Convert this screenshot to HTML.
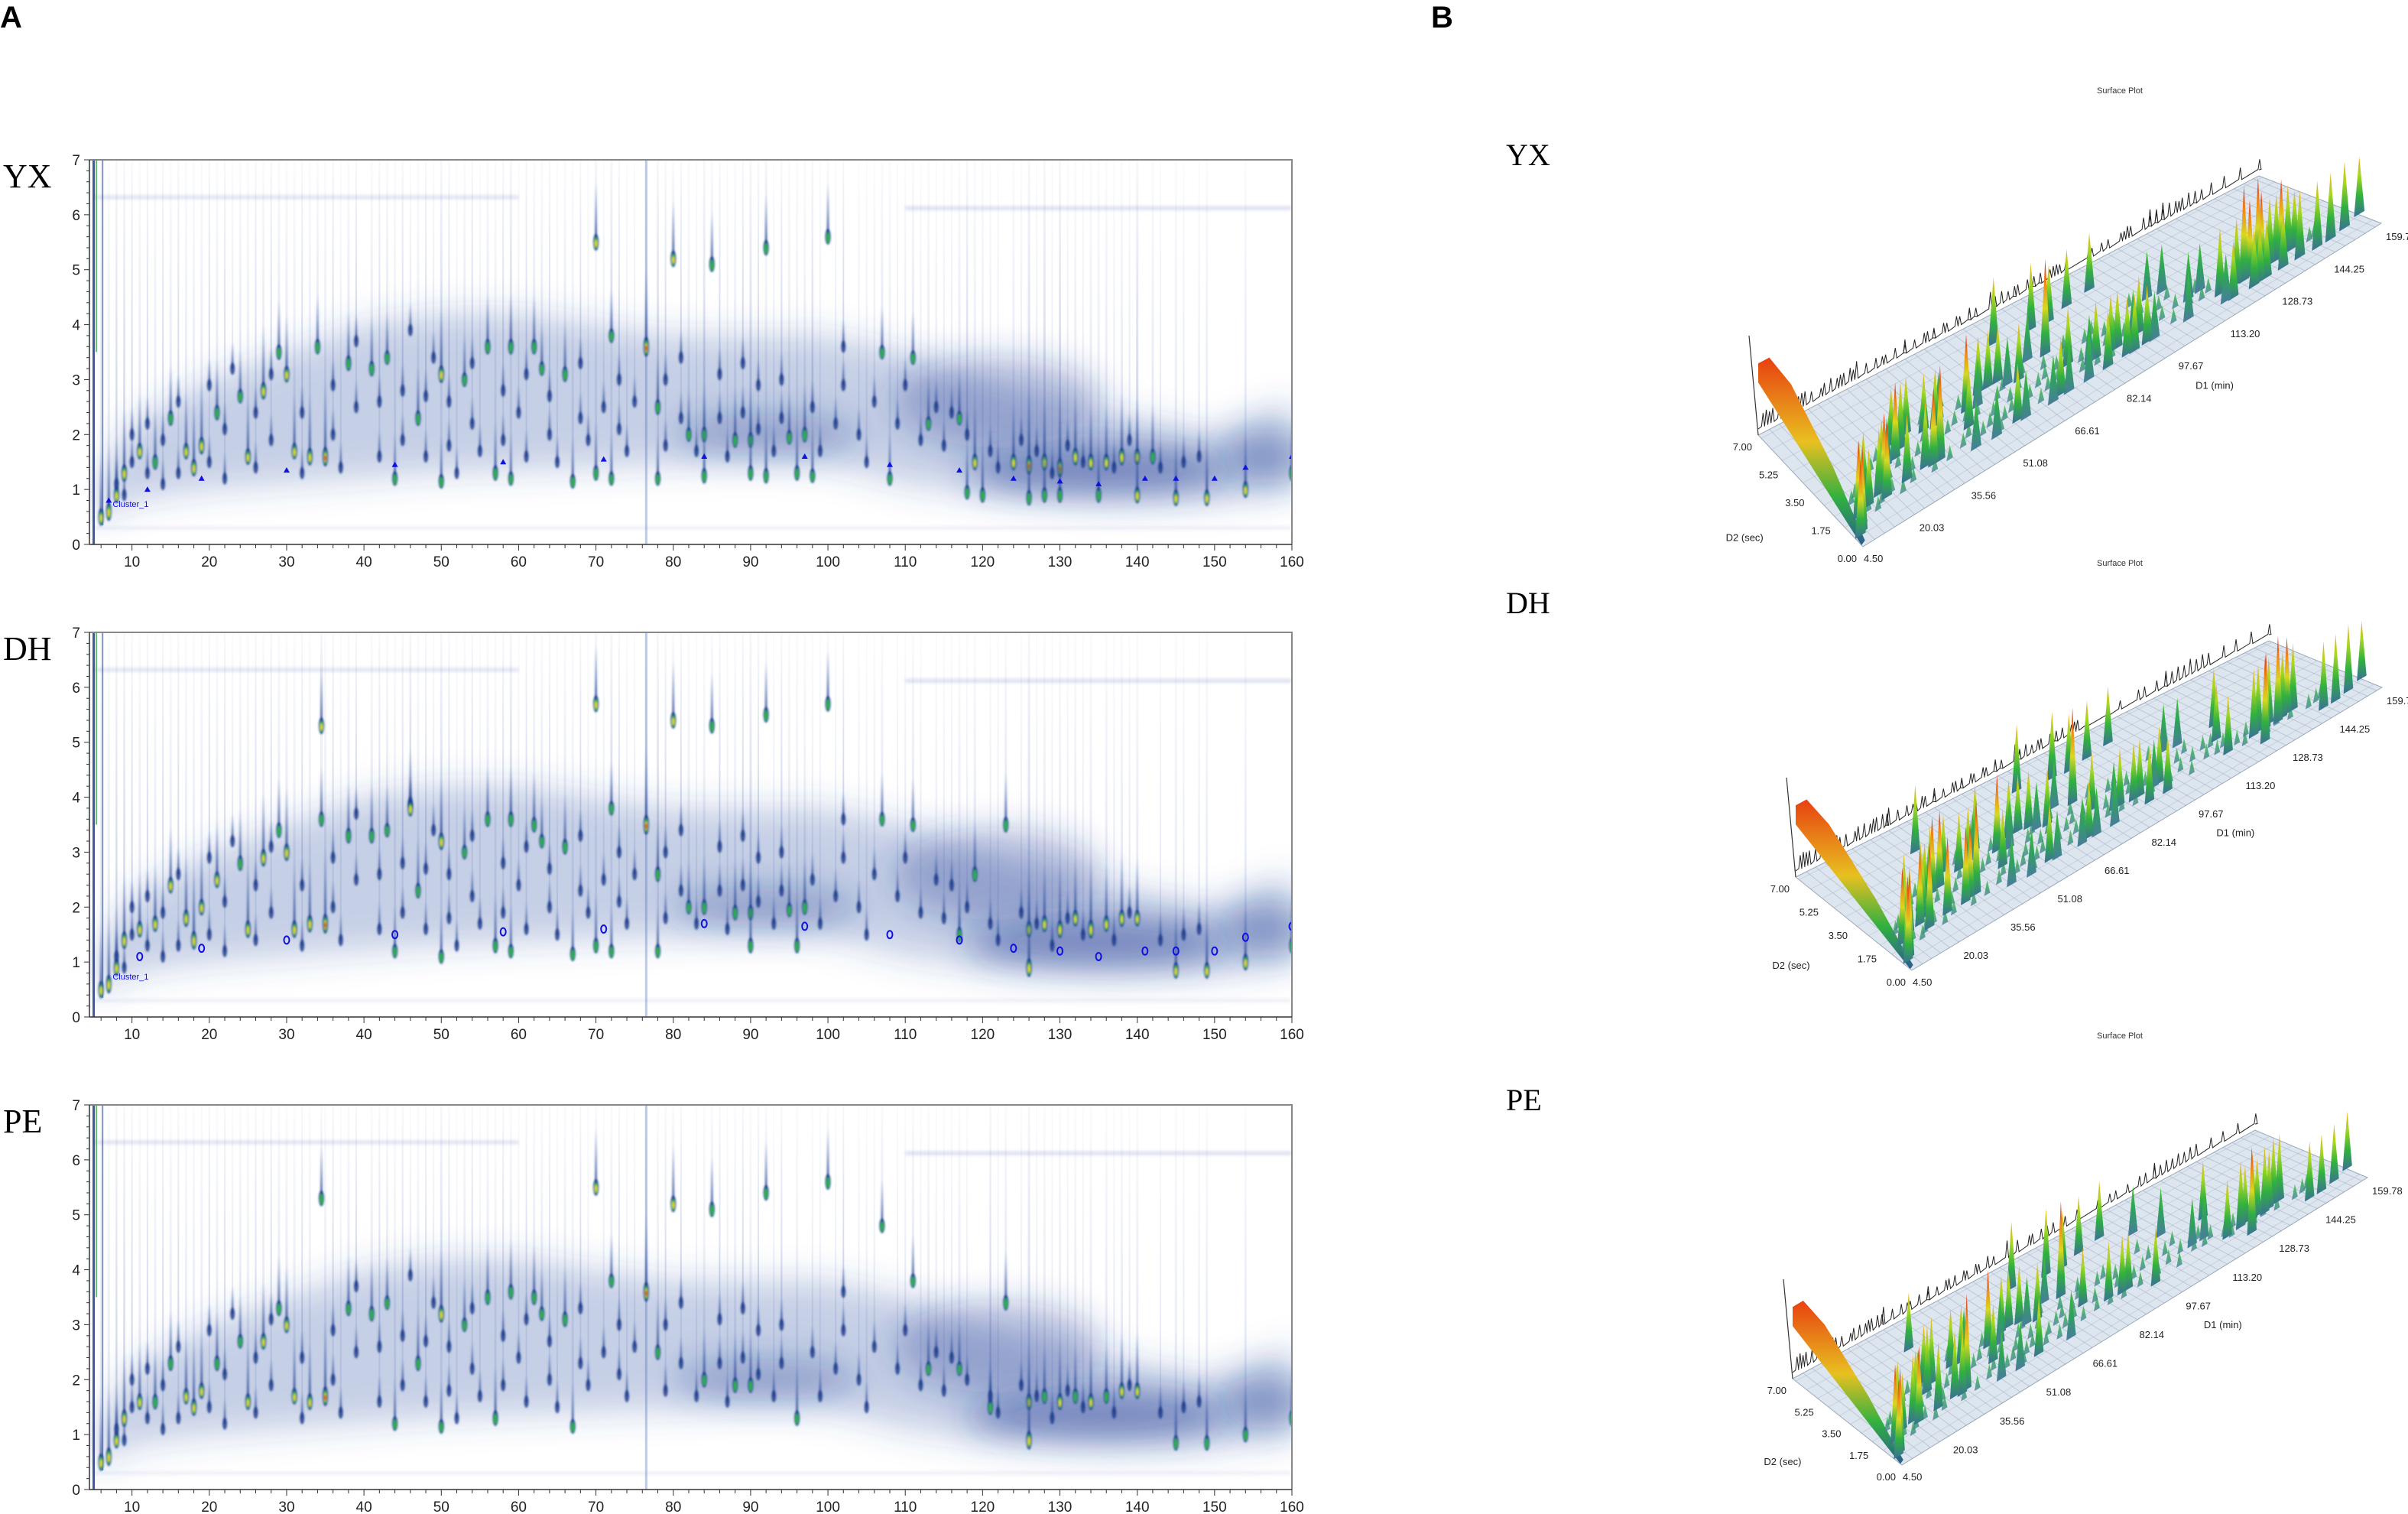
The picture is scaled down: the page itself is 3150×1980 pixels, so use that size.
<!DOCTYPE html>
<html><head><meta charset="utf-8"><style>
html,body{margin:0;padding:0;background:#fff;}
body{width:3150px;height:1980px;overflow:hidden;position:relative;}
svg{position:absolute;left:0;top:0;}
</style></head><body>
<svg id="fig" width="3150" height="1980" viewBox="0 0 3150 1980" xmlns="http://www.w3.org/2000/svg">
<defs>
<filter id="blur2" x="-20%" y="-20%" width="140%" height="140%"><feGaussianBlur stdDeviation="1.2"/></filter>
<filter id="blurH" filterUnits="userSpaceOnUse" x="0" y="0" width="3150" height="1980"><feGaussianBlur stdDeviation="22"/></filter>
<filter id="blurS" filterUnits="userSpaceOnUse" x="0" y="0" width="3150" height="1980"><feGaussianBlur stdDeviation="2"/></filter>
<linearGradient id="tail" x1="0" y1="1" x2="0" y2="0"><stop offset="0" stop-color="#1c3c8c" stop-opacity="0.8"/><stop offset="1" stop-color="#4060b0" stop-opacity="0"/></linearGradient>
<linearGradient id="streak" x1="0" y1="1" x2="0" y2="0"><stop offset="0" stop-color="#3050a0" stop-opacity="0.14"/><stop offset="1" stop-color="#3050a0" stop-opacity="0.02"/></linearGradient>
<linearGradient id="g3lo" x1="0" y1="1" x2="0" y2="0"><stop offset="0" stop-color="#4a7aa0"/><stop offset="0.5" stop-color="#2fa060"/><stop offset="1" stop-color="#40c030"/></linearGradient>
<linearGradient id="g3mid" x1="0" y1="1" x2="0" y2="0"><stop offset="0" stop-color="#3a6f98"/><stop offset="0.35" stop-color="#30b040"/><stop offset="0.7" stop-color="#a8d820"/><stop offset="1" stop-color="#f0b020"/></linearGradient>
<linearGradient id="g3hi" x1="0" y1="1" x2="0" y2="0"><stop offset="0" stop-color="#3a6f98"/><stop offset="0.25" stop-color="#30b040"/><stop offset="0.5" stop-color="#d8d820"/><stop offset="0.75" stop-color="#f08a18"/><stop offset="1" stop-color="#e01e10"/></linearGradient>
<linearGradient id="solv" x1="0" y1="1" x2="0" y2="0"><stop offset="0" stop-color="#2a5c90"/><stop offset="0.25" stop-color="#30b040"/><stop offset="0.55" stop-color="#e8c020"/><stop offset="1" stop-color="#e84010"/></linearGradient>
</defs>
<g id="panelA"></g>
<g id="panelB"></g>
</svg>
<script>
// ---------- 2D data (rt in min, d2 in sec, relative intensity) ----------
const xTicks = [10,20,30,40,50,60,70,80,90,100,110,120,130,140,150,160];
const yTicks = [0,1,2,3,4,5,6,7];
const hazeRt  = [5,10,20,30,40,50,60,70,80,90,100,110,120,130,140,150,160];
const hazeTop = [1.0,2.2,3.0,3.5,4.0,4.2,4.2,4.0,3.8,3.8,3.8,3.5,3.0,2.6,2.3,2.0,2.6];
const hazeBot = [0.4,0.8,1.0,1.1,1.2,1.3,1.35,1.4,1.45,1.5,1.45,1.1,0.9,0.85,0.8,0.8,1.0];

const bgRt = [8,9,10,10,12,12,14,14,16,16,20,20,22,22,23,26,26,28,28,32,32,36,36,37,39,39,42,42,45,45,46,48,48,49,51,51,52,54,54,55,58,58,60,61,61,64,64,65,68,68,69,71,73,73,74,75,79,79,81,81,83,86,86,87,89,89,91,91,93,94,94,98,99,101,102,102,104,105,106,109,110,112,114,115,116,118,121,122,125,127,129,131,133,137,139,143,146,148];
const bgD2 = [1.1,0.9,1.5,2.0,1.3,2.2,1.1,1.9,2.6,1.3,1.5,2.9,1.2,2.1,3.2,1.4,2.4,1.9,3.1,1.3,2.4,2.0,2.9,1.4,2.5,3.7,1.6,2.6,1.9,2.8,3.9,1.6,2.7,3.4,1.8,2.6,1.3,2.2,3.3,1.7,1.9,2.8,2.4,1.6,3.1,2.0,2.7,1.5,2.3,3.3,1.9,2.5,2.1,3.0,1.7,2.6,1.8,3.0,2.3,3.4,1.7,2.3,3.1,1.6,2.4,3.3,2.1,2.9,1.7,2.3,3.0,2.5,1.7,2.2,2.9,3.6,2.0,1.5,2.6,2.2,2.9,1.9,2.5,1.8,2.4,2.0,1.7,1.4,1.9,1.7,1.3,1.8,1.5,1.4,1.9,1.4,1.5,1.6];

const yxRt  = [6,7,8,9,11,13,15,17,18,19,21,24,25,27,29,30,31,33,34,35,38,41,43,44,47,50,50,53,56,57,59,59,62,63,66,67,70,70,72,72,76.5,78,78,80,82,84,84,85,88,90,90,92,92,95,96,97,98,100,107,108,111,113,117,118,119,120,124,126,126,128,128,130,130,132,134,135,136,138,140,140,142,145,149,154,160];
const yxD2  = [0.5,0.6,0.9,1.3,1.7,1.5,2.3,1.7,1.4,1.8,2.4,2.7,1.6,2.8,3.5,3.1,1.7,1.6,3.6,1.6,3.3,3.2,3.4,1.2,2.3,3.1,1.15,3.0,3.6,1.3,3.6,1.2,3.6,3.2,3.1,1.15,5.5,1.3,3.8,1.2,3.6,2.5,1.2,5.2,2.0,2.0,1.25,5.1,1.9,1.9,1.3,5.4,1.25,1.95,1.3,2.0,1.25,5.6,3.5,1.2,3.4,2.2,2.3,0.95,1.5,0.9,1.5,1.45,0.85,1.5,0.9,1.4,0.9,1.6,1.5,0.9,1.5,1.6,1.6,0.9,1.6,0.85,0.85,1.0,1.3];
const yxInt = [0.8,0.9,0.7,0.8,0.7,0.6,0.6,0.7,0.8,0.8,0.6,0.5,0.7,0.8,0.6,0.7,0.7,0.8,0.6,1.0,0.6,0.6,0.5,0.5,0.6,0.8,0.5,0.5,0.6,0.6,0.6,0.5,0.6,0.5,0.6,0.5,0.7,0.6,0.5,0.5,1.0,0.6,0.5,0.7,0.5,0.6,0.6,0.6,0.6,0.6,0.6,0.6,0.6,0.5,0.6,0.6,0.5,0.6,0.5,0.5,0.5,0.5,0.5,0.5,0.7,0.6,0.7,1.0,0.6,0.8,0.6,1.0,0.6,0.8,0.7,0.6,0.7,0.8,0.7,0.7,0.6,0.7,0.7,0.7,0.6];
const yxMarkRt = [7,12,19,30,44,58,71,84,97,108,117,124,130,135,141,145,150,154,160];
const yxMarkD2 = [0.8,1.0,1.2,1.35,1.45,1.5,1.55,1.6,1.6,1.45,1.35,1.2,1.15,1.1,1.2,1.2,1.2,1.4,1.6];

const dhRt  = [6,7,8,9,11,13,15,17,18,19,21,24,25,27,29,30,31,33,34.5,34.5,35,38,41,43,44,46,47,50,50,53,56,57,59,59,62,63,66,67,70,70,72,72,76.5,78,78,80,82,84,85,88,90,90,92,95,96,97,100,107,111,117,119,123,126,126,128,130,132,134,136,138,140,145,149,154,160];
const dhD2  = [0.5,0.6,0.9,1.4,1.6,1.7,2.4,1.8,1.4,2.0,2.5,2.8,1.6,2.9,3.4,3.0,1.6,1.7,3.6,5.3,1.7,3.3,3.3,3.4,1.2,3.8,2.3,3.2,1.1,3.0,3.6,1.3,3.6,1.2,3.5,3.2,3.1,1.15,5.7,1.3,3.8,1.2,3.5,2.6,1.2,5.4,2.0,2.0,5.3,1.9,1.9,1.3,5.5,1.95,1.3,2.0,5.7,3.6,3.5,1.5,2.6,3.5,1.6,0.9,1.7,1.6,1.8,1.6,1.7,1.8,1.8,0.85,0.85,1.0,1.3];
const dhInt = [0.8,0.9,0.8,0.8,0.7,0.7,0.7,0.8,0.9,0.7,0.7,0.6,0.8,0.8,0.6,0.8,0.8,0.8,0.6,0.7,1.0,0.6,0.6,0.5,0.5,0.7,0.6,0.8,0.5,0.5,0.6,0.6,0.6,0.5,0.6,0.5,0.6,0.5,0.7,0.6,0.5,0.5,1.0,0.6,0.5,0.7,0.5,0.6,0.6,0.6,0.6,0.6,0.6,0.5,0.6,0.6,0.6,0.5,0.5,0.6,0.6,0.6,0.7,0.9,0.7,0.8,0.7,0.9,0.7,0.8,0.7,0.7,0.7,0.7,0.6];
const dhMarkRt = [11,19,30,44,58,71,84,97,108,117,124,130,135,141,145,150,154,160];
const dhMarkD2 = [1.1,1.25,1.4,1.5,1.55,1.6,1.7,1.65,1.5,1.4,1.25,1.2,1.1,1.2,1.2,1.2,1.45,1.65];

const peRt  = [6,7,8,9,11,13,15,17,18,19,21,24,25,27,29,30,31,33,34.5,35,38,41,43,44,47,50,50,53,56,57,59,62,63,66,67,70,72,76.5,78,80,84,85,88,90,92,96,100,107,111,113,117,121,123,126,126,128,130,132,134,136,138,140,145,149,154,160];
const peD2  = [0.5,0.6,0.9,1.3,1.6,1.6,2.3,1.7,1.5,1.8,2.3,2.7,1.6,2.7,3.3,3.0,1.7,1.6,5.3,1.7,3.3,3.2,3.4,1.2,2.3,3.2,1.15,3.0,3.5,1.3,3.6,3.5,3.2,3.1,1.15,5.5,3.8,3.6,2.5,5.2,2.0,5.1,1.9,1.9,5.4,1.3,5.6,4.8,3.8,2.2,2.2,1.5,3.4,1.6,0.9,1.7,1.6,1.7,1.6,1.7,1.8,1.8,0.85,0.85,1.0,1.3];
const peInt = [0.8,0.9,0.7,0.8,0.7,0.6,0.6,0.7,0.8,0.7,0.6,0.5,0.7,0.7,0.6,0.7,0.7,0.7,0.6,1.0,0.6,0.6,0.5,0.5,0.6,0.8,0.5,0.5,0.6,0.6,0.6,0.6,0.5,0.6,0.5,0.7,0.5,1.0,0.6,0.7,0.6,0.6,0.6,0.6,0.6,0.6,0.6,0.5,0.5,0.5,0.5,0.6,0.6,0.7,0.9,0.6,0.7,0.6,0.7,0.6,0.7,0.7,0.6,0.6,0.6,0.6];

const d1Ticks = [4.50,20.03,35.56,51.08,66.61,82.14,97.67,113.20,128.73,144.25,159.78];
const d2Ticks = [0.00,1.75,3.50,5.25,7.00];

const NS = 'http://www.w3.org/2000/svg';
function mk(tag, attrs, parent){ const e=document.createElementNS(NS,tag); for(const k in attrs) e.setAttribute(k,attrs[k]); if(parent) parent.appendChild(e); return e; }
function txt(str, attrs, parent){ const e=mk('text',attrs,parent); e.textContent=str; return e; }

const A = document.getElementById('panelA');
const B = document.getElementById('panelB');

const lblA = txt('A',{x:0,y:36,'font-family':'Liberation Sans, sans-serif','font-size':40,'font-weight':'bold',fill:'#000'},A);


const lblB = txt('B',{x:1872,y:36,'font-family':'Liberation Sans, sans-serif','font-size':40,'font-weight':'bold',fill:'#000'},B);



const X0=117, X1=1690, XMIN=4.5, XMAX=160, PH=503;
function sx(v){ return X0 + (v-XMIN)/(XMAX-XMIN)*(X1-X0); }

function draw2D(name, top, rts, d2s, ints, mRt, mD2, markType){
  function sy(v){ return top+PH - v/7*PH; }
  const g = mk('g',{},A);
  
  
  const clipId='clip-'+name;
  const cp = mk('clipPath',{id:clipId},g); mk('rect',{x:X0,y:top,width:X1-X0,height:PH},cp);
  const inner = mk('g',{'clip-path':'url(#'+clipId+')'},g);
  let d='M'+sx(hazeRt[0])+','+sy(hazeTop[0]);
  for(let i=1;i<hazeRt.length;i++) d+=' L'+sx(hazeRt[i])+','+sy(hazeTop[i]);
  for(let i=hazeRt.length-1;i>=0;i--) d+=' L'+sx(hazeRt[i])+','+sy(hazeBot[i]);
  const hz = mk('path',{d:d+'Z',fill:'#2e4fa0','fill-opacity':0.28,filter:'url(#blurH)'},inner);
  
  
  const c1 = mk('ellipse',{cx:sx(92),cy:sy(2.0),rx:(sx(104)-sx(80))/2,ry:PH*0.05,fill:'#1e3c96','fill-opacity':0.35,filter:'url(#blurH)'},inner);
  
  
  const c2 = mk('ellipse',{cx:sx(122),cy:sy(2.6),rx:(sx(135)-sx(108))/2,ry:PH*0.12,fill:'#1e3c96','fill-opacity':0.3,filter:'url(#blurH)'},inner);
  
  
  const band = mk('ellipse',{cx:sx(135),cy:sy(1.35),rx:(sx(152)-sx(118))/2,ry:PH*0.065,fill:'#1e3c96','fill-opacity':0.5,filter:'url(#blurH)'},inner);
  
  
  const band2 = mk('ellipse',{cx:sx(157),cy:sy(1.6),rx:(sx(162)-sx(150))/2,ry:PH*0.07,fill:'#1e3c96','fill-opacity':0.4,filter:'url(#blurH)'},inner);
  
  
  mk('rect',{x:sx(5),y:sy(6.32)-2,width:sx(60)-sx(5),height:4,fill:'#8090c8','fill-opacity':0.3,filter:'url(#blurS)'},inner);
  mk('rect',{x:sx(110),y:sy(6.12)-2,width:sx(160)-sx(110),height:4,fill:'#8090c8','fill-opacity':0.35,filter:'url(#blurS)'},inner);
  mk('rect',{x:sx(5),y:sy(0.3)-1.5,width:sx(160)-sx(5),height:3,fill:'#8090c8','fill-opacity':0.2,filter:'url(#blurS)'},inner);
  const st = mk('g',{},inner);
  
  
  rts.forEach((r,i)=>{ mk('rect',{x:sx(r)-1.5,y:top,width:3,height:sy(d2s[i])-top,fill:'url(#streak)'},st); });
  bgRt.forEach((r,i)=>{ mk('rect',{x:sx(r)-1,y:top,width:2,height:sy(bgD2[i])-top,fill:'url(#streak)'},st); });
  mk('rect',{x:sx(4.9),y:top,width:3,height:PH,fill:'#1c3c8c','fill-opacity':0.85},inner);
  mk('rect',{x:sx(5.3),y:top,width:2,height:PH*0.5,fill:'#3cb050','fill-opacity':0.8},inner);
  mk('rect',{x:sx(6.1),y:top,width:2,height:PH*0.95,fill:'#1c3c8c','fill-opacity':0.55},inner);
  mk('rect',{x:sx(76.5)-1.5,y:top,width:3,height:PH,fill:'#4a6ab0','fill-opacity':0.35},inner);
  const bg = mk('g',{filter:'url(#blur2)'},inner);
  
  
  bgRt.forEach((r,i)=>{
    const cx=sx(r), cy=sy(bgD2[i]);
    mk('rect',{x:cx-1.5,y:cy-35,width:3,height:35,fill:'url(#tail)'},bg);
    mk('ellipse',{cx:cx,cy:cy,rx:3,ry:8,fill:'#1c3c8c','fill-opacity':0.85},bg);
  });
  const pg = mk('g',{filter:'url(#blur2)'},inner);
  for(let i=0;i<rts.length;i++){
    const cx=sx(rts[i]), cy=sy(d2s[i]), I=ints[i];
    const pk = mk('g',{},pg);
    
    
    const tl = 20 + I*80;
    mk('rect',{x:cx-1.5,y:cy-tl,width:3,height:tl,fill:'url(#tail)'},pk);
    const ry = 6 + I*7;
    mk('ellipse',{cx:cx,cy:cy,rx:3.5,ry:ry,fill:'#1c3c8c'},pk);
    mk('ellipse',{cx:cx,cy:cy+1,rx:2.3,ry:ry*0.7,fill:'#30b048'},pk);
    if(I>=0.7) mk('ellipse',{cx:cx,cy:cy+1.5,rx:1.5,ry:ry*0.45,fill:'#e8e020'},pk);
    if(I>=0.95) mk('ellipse',{cx:cx,cy:cy+2,rx:1.3,ry:ry*0.3,fill:'#e83c10'},pk);
  }
  if(mRt){
    for(let i=0;i<mRt.length;i++){
      const cx=sx(mRt[i]), cy=sy(mD2[i]);
      let m;
      if(markType==='tri') m = mk('path',{d:`M${cx-4},${cy+3} L${cx},${cy-4} L${cx+4},${cy+3}Z`,fill:'#1010e0'},inner);
      else m = mk('ellipse',{cx:cx,cy:cy,rx:3.5,ry:5,fill:'none',stroke:'#1010e0','stroke-width':2},inner);
      
      
    }
    const ct = txt('Cluster_1',{x:sx(7.5),y:sy(0.68),'font-family':'Liberation Sans, sans-serif','font-size':11,fill:'#1010e0'},inner);
    
    
  }
  const fr = mk('path',{d:`M${X0},${top} L${X1},${top} L${X1},${top+PH}`,fill:'none',stroke:'#888','stroke-width':2},g);
  
  
  const ax = mk('g',{},g);
  
  
  mk('line',{x1:X0,y1:top,x2:X0,y2:top+PH,stroke:'#333','stroke-width':1.5},ax);
  for(let v=0;v<=7.001;v+=0.2){ const y=sy(v); const major=Math.abs(v-Math.round(v))<0.01; mk('line',{x1:X0-(major?7:4),y1:y,x2:X0,y2:y,stroke:'#333','stroke-width':1},ax); }
  yTicks.forEach(v=>{ const t=txt(String(v),{x:X0-12,y:sy(v)+7,'text-anchor':'end','font-family':'Liberation Sans, sans-serif','font-size':19,fill:'#222'},ax);   });
  const bx = mk('g',{},g);
  
  
  mk('line',{x1:X0,y1:top+PH,x2:X1,y2:top+PH,stroke:'#333','stroke-width':1.5},bx);
  for(let v=6;v<=160;v+=2){ const x=sx(v); const major=v%10===0; mk('line',{x1:x,y1:top+PH,x2:x,y2:top+PH+(major?8:5),stroke:'#333','stroke-width':1},bx); }
  xTicks.forEach(v=>{ const t=txt(String(v),{x:sx(v),y:top+PH+29,'text-anchor':'middle','font-family':'Liberation Sans, sans-serif','font-size':19,fill:'#222'},bx);   });
  const sl = txt(name.toUpperCase(),{x:4,y:top+36,'font-family':'Liberation Serif, serif','font-size':44,fill:'#000'},A);
  
  
}

draw2D('yx',209,yxRt,yxD2,yxInt,yxMarkRt,yxMarkD2,'tri');
draw2D('dh',827,dhRt,dhD2,dhInt,dhMarkRt,dhMarkD2,'circ');
draw2D('pe',1445,peRt,peD2,peInt,null,null,null);

function draw3D(name, corners, titleY, labelY, rts, d2s, ints){
  const [Bc,Cc,Ac,Dc] = corners;
  const H = 125;
  function P(d1,d2,h){
    const u=(d1-4.5)/(159.78-4.5), v=d2/7;
    const x=(1-u)*(1-v)*Bc[0]+u*(1-v)*Cc[0]+(1-u)*v*Ac[0]+u*v*Dc[0];
    const y=(1-u)*(1-v)*Bc[1]+u*(1-v)*Cc[1]+(1-u)*v*Ac[1]+u*v*Dc[1];
    return [x, y-h*H];
  }
  const g = mk('g',{},B);
  
  
  const tt = txt('Surface Plot',{x:2773,y:titleY,'text-anchor':'middle','font-family':'Liberation Sans, sans-serif','font-size':11,fill:'#333'},g);
  
  
  const sl = txt(name.toUpperCase(),{x:1970,y:labelY,'font-family':'Liberation Serif, serif','font-size':40,fill:'#000'},g);
  
  
  const pts=[P(4.5,0,0),P(159.78,0,0),P(159.78,7,0),P(4.5,7,0)].map(p=>p.join(',')).join(' ');
  const fl = mk('polygon',{points:pts,fill:'#dde5ee',stroke:'#9aa8b8','stroke-width':1},g);
  
  
  for(let d=8; d<160; d+=3){ const a=P(d,0,0), b=P(d,7,0); mk('line',{x1:a[0],y1:a[1],x2:b[0],y2:b[1],stroke:'#7f93ad','stroke-width':1,'stroke-opacity':0.35},g); }
  for(let d=0.5; d<7; d+=0.7){ const a=P(4.5,d,0), b=P(159.78,d,0); mk('line',{x1:a[0],y1:a[1],x2:b[0],y2:b[1],stroke:'#8a9cb4','stroke-width':1,'stroke-opacity':0.25},g); }
  const b0=P(4.5,7,0), b1=P(159.78,7,0);
  let tr='M'+b0[0]+','+(b0[1]-8);
  const order=rts.map((r,i)=>i).sort((a,b)=>rts[a]-rts[b]);
  order.forEach(i=>{ const p=P(rts[i],7,0); tr+=` L${p[0]-2},${p[1]-8} L${p[0]},${p[1]-8-ints[i]*22} L${p[0]+2},${p[1]-8}`; });
  tr+=' L'+b1[0]+','+(b1[1]-8);
  const tp = mk('path',{d:tr,fill:'none',stroke:'#222','stroke-width':1},g);
  
  
  const wallTop=P(4.5,7,0);
  mk('line',{x1:wallTop[0]-12,y1:wallTop[1]-130,x2:wallTop[0],y2:wallTop[1],stroke:'#333','stroke-width':1.2},g);
  const sv=[P(4.5,0.1,0),P(4.5,7,0.55),P(4.5,7,0.75),P(7,6.8,0.8),P(10,6.0,0.6),P(9,3.0,0.25),P(7,1.0,0.05),P(6,0.2,0)].map(p=>p.join(',')).join(' ');
  const sp = mk('polygon',{points:sv,fill:'url(#solv)'},g);
  
  
  bgRt.forEach((r,i)=>{
    const l=P(r-1,bgD2[i],0), t=P(r,bgD2[i],0.15), rr=P(r+1,bgD2[i],0);
    const m=mk('polygon',{points:`${l[0]},${l[1]} ${t[0]},${t[1]} ${rr[0]},${rr[1]}`,fill:'url(#g3lo)','fill-opacity':0.8},g);
    
    
  });
  const idx=rts.map((r,i)=>i).sort((a,b)=>P(rts[a],d2s[a],0)[1]-P(rts[b],d2s[b],0)[1]);
  idx.forEach(i=>{
    const I=ints[i];
    const l=P(rts[i]-1.6,d2s[i],0), t=P(rts[i],d2s[i],I), r=P(rts[i]+1.6,d2s[i],0);
    const grad = I>=0.8?'url(#g3hi)':(I>=0.6?'url(#g3mid)':'url(#g3lo)');
    const sp=mk('polygon',{points:`${l[0]},${l[1]} ${t[0]},${t[1]} ${r[0]},${r[1]}`,fill:grad},g);
    
    
  });
  d1Ticks.slice(1).forEach(v=>{ const p=P(v,0,0); const t=txt(v.toFixed(2),{x:p[0]+6,y:p[1]+22,'font-family':'Liberation Sans, sans-serif','font-size':13,fill:'#222'},g);   });
  d2Ticks.forEach(v=>{ const p=P(4.5,v,0); const t=txt(v.toFixed(2),{x:p[0]-8,y:p[1]+20,'text-anchor':'end','font-family':'Liberation Sans, sans-serif','font-size':13,fill:'#222'},g);   });
  const f=P(4.5,0,0);
  const t45 = txt('4.50',{x:f[0]+1,y:f[1]+20,'font-family':'Liberation Sans, sans-serif','font-size':13,fill:'#222'},g);
  
  
  const m=P(95,0,0);
  const d1l = txt('D1 (min)',{x:m[0]+40,y:m[1]+40,'font-family':'Liberation Sans, sans-serif','font-size':13,fill:'#222'},g);
  
  
  const q=P(4.5,1.5,0);
  const d2l = txt('D2 (sec)',{x:q[0]-150,y:q[1]+24,'font-family':'Liberation Sans, sans-serif','font-size':13,fill:'#222'},g);
  
  
}

draw3D('yx',[[2437,715],[3115,292],[2300,569],[2955,230]],122,216,yxRt,yxD2,yxInt);
draw3D('dh',[[2501,1269],[3116,899],[2349,1147],[2968,838]],740,802,dhRt,dhD2,dhInt);
draw3D('pe',[[2488,1916],[3097,1540],[2345,1803],[2950,1478]],1358,1452,peRt,peD2,peInt);
</script>
</body></html>
